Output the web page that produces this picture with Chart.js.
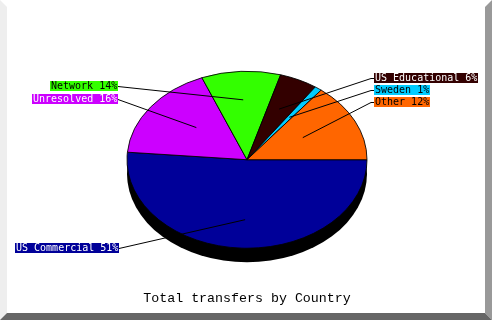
<!DOCTYPE html>
<html>
<head>
<meta charset="utf-8">
<script src="https://cdn.jsdelivr.net/npm/chart.js@4/dist/chart.umd.min.js"></script>
<style>
    body { margin: 0; }
    #frame { position: relative; width: 492px; height: 320px; background: #fff; overflow: hidden; }
    .edge { position: absolute; left: 0; top: 0; width: 492px; height: 320px; }
    #chart { position: absolute; left: 0; top: 0; }
</style>
</head>
<body>
<div id="frame">
    <div class="edge" style="background:#eeeeee; clip-path: polygon(0 0, 7px 7px, 7px 313px, 0 320px);"></div>
    <div class="edge" style="background:#999999; clip-path: polygon(485px 7px, 492px 0, 492px 320px, 485px 313px);"></div>
    <div class="edge" style="background:#666666; clip-path: polygon(7px 313px, 485px 313px, 492px 320px, 0 320px);"></div>
    <canvas id="chart" width="492" height="320"></canvas>
</div>
<script>
    // Data
    // ----------------------------------------------
    const categories      = ['US Commercial', 'Unresolved', 'Network', 'US Educational', 'Sweden', 'Other'];
    const shares          = [51, 16, 14, 6, 1, 12];
    const sliceColors     = ['#000099', '#cc00ff', '#33ff00', '#330000', '#00ccff', '#ff6600'];
    const labelTextColors = ['#ffffff', '#ffffff', '#000000', '#ffffff', '#000000', '#000000'];
    const chartTitle      = 'Total transfers by Country';



    // Look of the tilted pie
    // ----------------------------------------------
    const TILT  = 0.7375;   // vertical squash of the disc
    const DEPTH = 14;       // drop of the black shadow

    // where each callout box sits (same order as categories)
    const labelSpots = [
        { side: 'left',  x: 119, y: 248 },
        { side: 'left',  x: 118, y: 99 },
        { side: 'left',  x: 118, y: 86 },
        { side: 'right', x: 374, y: 78 },
        { side: 'right', x: 374, y: 90 },
        { side: 'right', x: 374, y: 102 }
    ];

    // angle in the circle that lands on screen angle t once squashed
    const squash = t => {
        const f = Math.atan2(Math.sin(t) / TILT, Math.cos(t));
        return f + 2 * Math.PI * Math.round((t - f) / (2 * Math.PI));
    };

    const tiltPlugin = {
        id: 'tilt',
        beforeDatasetsDraw(chart) {
            const ctx  = chart.ctx;
            const arcs = chart.getDatasetMeta(0).data;
            const { x, y, outerRadius: r } = arcs[0];

            ctx.save();
            ctx.fillStyle = '#000';
            ctx.beginPath();
            ctx.ellipse(x, y + DEPTH, r, r * TILT, 0, 0, Math.PI * 2);
            ctx.fill();

            ctx.translate(x, y);
            ctx.scale(1, TILT);
            ctx.translate(-x, -y);

            arcs.forEach(a => {
                a.$screen = [a.startAngle, a.endAngle];
                a.startAngle = squash(a.startAngle);
                a.endAngle   = squash(a.endAngle);
            });
        },
        afterDatasetsDraw(chart) {
            const ctx  = chart.ctx;
            const arcs = chart.getDatasetMeta(0).data;
            arcs.forEach(a => { [a.startAngle, a.endAngle] = a.$screen; });
            ctx.restore();

            // Callouts
            const total = shares.reduce((s, v) => s + v, 0);
            ctx.save();
            ctx.font = '10px "DejaVu Sans Mono"';
            ctx.textBaseline = 'middle';
            ctx.textAlign = 'left';
            ctx.lineWidth = 1;
            ctx.strokeStyle = '#000';

            arcs.forEach((a, i) => {
                const text = `${categories[i]} ${Math.round(shares[i] / total * 100)}%`;
                const w    = Math.ceil(ctx.measureText(text).width) + 1;
                const spot = labelSpots[i];
                const left = spot.side === 'left' ? spot.x - w : spot.x;
                const mid  = (a.startAngle + a.endAngle) / 2;
                const ax   = a.x + Math.cos(mid) * a.outerRadius / 2;
                const ay   = a.y + Math.sin(mid) * a.outerRadius / 2;

                ctx.beginPath();
                ctx.moveTo(spot.x, spot.y + 0.5);
                if (spot.side === 'right') {
                    ctx.lineTo(spot.x - 3, spot.y + 0.5);
                }
                ctx.lineTo(ax, ay);
                ctx.stroke();

                ctx.fillStyle = sliceColors[i];
                ctx.fillRect(left, spot.y - 5, w, 10);
                ctx.fillStyle = labelTextColors[i];
                ctx.fillText(text, left + 1, spot.y + 0.5);
            });
            ctx.restore();
        }
    };



    // Pie Chart
    // ----------------------------------------------
    const pieChart = new Chart(
        document.getElementById('chart'), {
            type: 'pie',
            data: {
                labels: categories,
                datasets: [
                    {
                        data: shares,
                        backgroundColor: sliceColors,
                        borderColor: '#000',
                        borderWidth: 1,
                        radius: 120
                    }
                ]
            },
            options: {
                responsive: false,
                animation: false,
                rotation: 90,
                layout: {
                    padding: { left: 2, right: 0, top: 29, bottom: 13.6 }
                },
                plugins: {
                    legend: { display: false },
                    tooltip: { enabled: false },
                    title: {
                        display: true,
                        text: chartTitle,
                        position: 'bottom',
                        color: '#000',
                        padding: 0,
                        font: { family: '"Liberation Mono"', size: 13.3, weight: 'normal' }
                    }
                }
            },
            plugins: [tiltPlugin]
        }
    );
</script>
</body>
</html>
